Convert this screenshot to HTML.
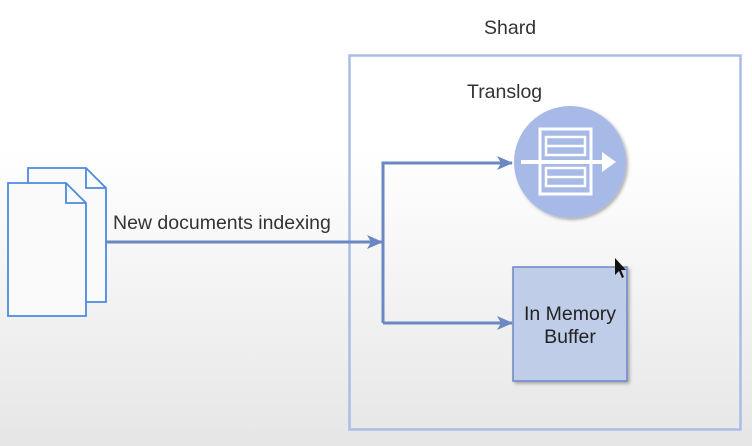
<!DOCTYPE html>
<html><head><style>
body{margin:0;width:752px;height:446px;overflow:hidden;background:linear-gradient(#fff 0,#fff 150px,#e6e6e6 446px);font-family:"Liberation Sans",sans-serif;}
</style></head><body>
<svg width="752" height="446" style="position:absolute;left:0;top:0">
<defs><marker id="a" markerWidth="16" markerHeight="14" refX="15" refY="7" orient="auto" markerUnits="userSpaceOnUse"><path d="M0,0 L16,7 L0,14 L4,7 Z" fill="#6b87c4"/></marker>
<filter id="s"><feDropShadow dx="2" dy="2" stdDeviation="1.5" flood-opacity="0.3"/></filter></defs>
<rect x="349.5" y="55.5" width="391" height="374" fill="none" stroke="#a9bde6" stroke-width="2.5"/>
<path d="M28,168 H86 L106,188 V302 H28 Z" fill="#fafafa" stroke="#4a8be0" stroke-width="1.8"/>
<path d="M86,168 V188 H106" fill="none" stroke="#4a8be0" stroke-width="1.8"/>
<path d="M8,183 H66 L86,203 V316 H8 Z" fill="#fafafa" stroke="#4a8be0" stroke-width="1.8"/>
<path d="M66,183 V203 H86" fill="none" stroke="#4a8be0" stroke-width="1.8"/>
<g stroke="#6b87c4" stroke-width="3" fill="none">
<line x1="106" y1="242" x2="382" y2="242" marker-end="url(#a)"/>
<path d="M383,323 V163 H512" marker-end="url(#a)"/>
<path d="M383,323 H512" marker-end="url(#a)"/>
</g>
<circle cx="570" cy="162" r="56" fill="#a7b9e6" filter="url(#s)"/>
<rect x="540" y="129" width="51" height="65" fill="none" stroke="#fff" stroke-width="3"/>
<rect x="546" y="137" width="39" height="18" fill="none" stroke="#fff" stroke-width="2.5"/>
<rect x="546" y="168" width="39" height="18" fill="none" stroke="#fff" stroke-width="2.5"/>
<line x1="546" y1="146" x2="585" y2="146" stroke="#fff" stroke-width="2.5"/>
<line x1="546" y1="177" x2="585" y2="177" stroke="#fff" stroke-width="2.5"/>
<line x1="521" y1="162" x2="605" y2="162" stroke="#fff" stroke-width="4"/>
<path d="M602,152 L616,162 L602,172 Z" fill="#fff"/>
<rect x="513" y="267" width="114" height="114" fill="#c0cde8" stroke="#6b87c4" stroke-width="1.5" filter="url(#s)"/>
<path d="M615,258 V275 L619,271 L622,278 L624,277 L621,270 L626,270 Z" fill="#111"/>
<g font-size="19.5" fill="#333">
<text x="113" y="229">New documents indexing</text>
<text x="484" y="34">Shard</text>
<text x="467" y="98">Translog</text>
<text x="570" y="320" text-anchor="middle" fill="#222">In Memory</text>
<text x="570" y="343" text-anchor="middle" fill="#222">Buffer</text>
</g>
</svg>
</body></html>
